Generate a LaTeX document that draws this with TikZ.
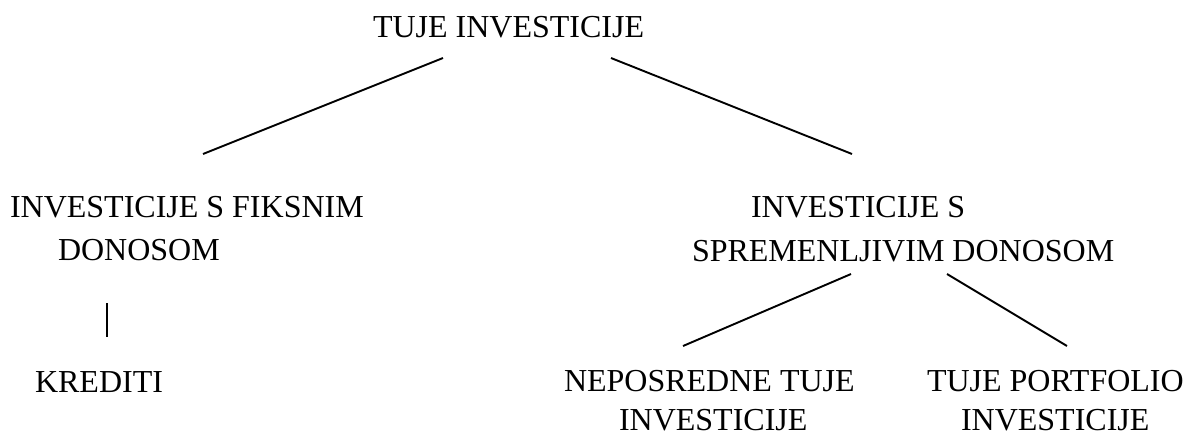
\documentclass[tikz,border=0pt]{standalone}
\usepackage{fontspec}
\setmainfont{Liberation Serif}
\begin{document}
\begin{tikzpicture}[x=1pt,y=-1pt,
  lbl/.style={anchor=base west,inner sep=0pt,outer sep=0pt,font=\fontsize{32}{38}\selectfont},
  link/.style={line width=1.9pt,black}]
\useasboundingbox (0,0) rectangle (1192,437);

% root
\node[lbl] (root) at (373,37) {TUJE INVESTICIJE};

% left branch
\node[lbl] (fix1) at (10,217) {INVESTICIJE S FIKSNIM};
\node[lbl] (fix2) at (58,260) {DONOSOM};
\node[lbl] (kred) at (35,392) {KREDITI};

% right branch
\node[lbl] (var1) at (751,217) {INVESTICIJE S};
\node[lbl] (var2) at (692,261) {SPREMENLJIVIM DONOSOM};
\node[lbl] (nep1) at (564,391) {NEPOSREDNE TUJE};
\node[lbl] (nep2) at (619,430) {INVESTICIJE};
\node[lbl] (por1) at (927,391) {TUJE PORTFOLIO};
\node[lbl] (por2) at (961,430) {INVESTICIJE};

% connector end points
\coordinate (rootL) at (443,58);
\coordinate (rootR) at (611,58);
\coordinate (fixT) at (203,154);
\coordinate (varT) at (852,154);
\coordinate (fixB) at (107,303);
\coordinate (kredT) at (107,337);
\coordinate (varBL) at (851,274);
\coordinate (varBR) at (947,274);
\coordinate (nepT) at (683,346);
\coordinate (porT) at (1067,346);

\draw[link] (rootL) -- (fixT);
\draw[link] (rootR) -- (varT);
\draw[link] (fixB) -- (kredT);
\draw[link] (varBL) -- (nepT);
\draw[link] (varBR) -- (porT);
\end{tikzpicture}
\end{document}
